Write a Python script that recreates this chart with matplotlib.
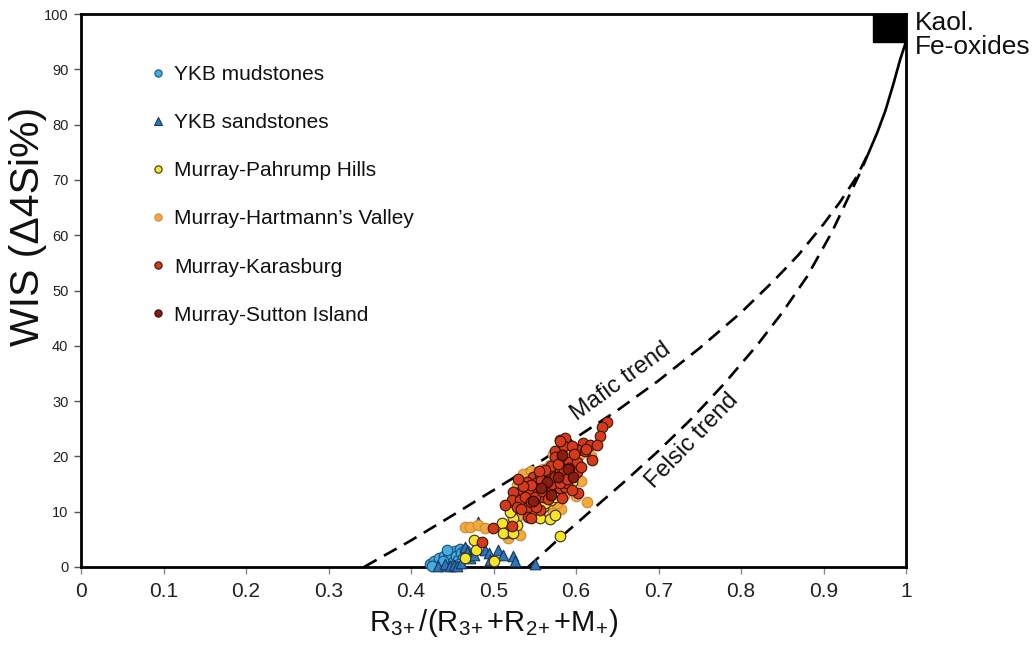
import matplotlib
matplotlib.use("Agg")
import matplotlib.pyplot as plt
from matplotlib.patches import Rectangle
from matplotlib.lines import Line2D

plt.rcParams['font.family'] = ['Liberation Sans', 'DejaVu Sans']
plt.rcParams['mathtext.fontset'] = 'custom'
plt.rcParams['mathtext.rm'] = 'Liberation Sans'
plt.rcParams['mathtext.default'] = 'regular'

# ---------------- data ----------------
mud_x = [0.423, 0.428, 0.431, 0.434, 0.437, 0.440, 0.442, 0.445, 0.446, 0.449, 0.451, 0.453,
         0.455, 0.457, 0.459, 0.461, 0.463, 0.465, 0.436, 0.448, 0.458, 0.426, 0.444, 0.467, 0.439]
mud_y = [0.5, 1.0, 0.3, 1.6, 0.7, 2.0, 1.2, 0.4, 2.4, 1.6, 0.9, 2.9,
         2.0, 1.3, 3.3, 2.5, 1.7, 3.0, 0.2, 0.2, 0.6, 0.2, 3.1, 2.2, 1.0]

sand_x = [0.433, 0.441, 0.447, 0.452, 0.456, 0.460, 0.465, 0.468, 0.472, 0.476, 0.481, 0.490,
          0.494, 0.496, 0.506, 0.512, 0.524, 0.526, 0.550, 0.477]
sand_y = [0.2, 0.5, 0.1, 0.3, 0.2, 0.8, 3.7, 2.8, 1.6, 2.2, 8.2, 3.1,
          2.5, 1.3, 3.1, 2.2, 1.9, 1.0, 0.6, 3.4]

hart_x = [0.466, 0.472, 0.481, 0.490, 0.518, 0.532, 0.613, 0.548, 0.556, 0.528, 0.540, 0.560,
          0.568, 0.572, 0.590, 0.597, 0.606, 0.570, 0.550, 0.535, 0.530, 0.545, 0.565, 0.600,
          0.586, 0.572, 0.582, 0.604, 0.592, 0.577, 0.618, 0.555, 0.536, 0.545]
hart_y = [7.2, 7.2, 7.6, 7.0, 5.2, 5.8, 11.8, 10.0, 9.5, 14.8, 16.3, 17.8,
          18.4, 20.5, 21.5, 17.0, 15.5, 16.0, 13.2, 11.0, 9.2, 12.2, 11.0, 12.8,
          13.0, 9.8, 10.5, 20.2, 19.6, 11.6, 20.0, 15.8, 16.8, 17.4]

pahr_x = [0.466, 0.476, 0.479, 0.500, 0.510, 0.514, 0.522, 0.528, 0.524, 0.526, 0.520, 0.556,
          0.568, 0.560, 0.570, 0.581, 0.593, 0.593, 0.595, 0.575, 0.562, 0.574, 0.585, 0.552,
          0.545, 0.578, 0.600, 0.565, 0.512, 0.524]
pahr_y = [1.6, 4.9, 3.1, 1.0, 7.9, 6.1, 6.1, 7.6, 8.8, 10.6, 10.0, 8.8,
          8.6, 10.9, 12.1, 5.6, 15.2, 18.4, 15.4, 12.7, 11.6, 9.4, 16.5, 12.5,
          14.5, 20.5, 17.5, 14.0, 6.1, 6.1]

kara_x = [0.581, 0.587, 0.575, 0.579, 0.584, 0.573, 0.581, 0.587, 0.548, 0.556, 0.562, 0.540,
          0.552, 0.564, 0.573, 0.581, 0.587, 0.534, 0.544, 0.554, 0.560, 0.568, 0.524, 0.522,
          0.532, 0.538, 0.514, 0.528, 0.540, 0.556, 0.542, 0.546, 0.522, 0.575, 0.585,
          0.637, 0.631, 0.629, 0.609, 0.617, 0.625, 0.603, 0.611, 0.619, 0.591, 0.601, 0.585,
          0.601, 0.562, 0.577, 0.589, 0.568, 0.603, 0.583, 0.499, 0.486, 0.581, 0.595,
          0.546, 0.558, 0.566, 0.571, 0.550, 0.559, 0.536, 0.530, 0.570, 0.578, 0.592, 0.597,
          0.563, 0.555, 0.545, 0.533, 0.595, 0.606, 0.612, 0.574, 0.566, 0.551, 0.580, 0.589]
kara_y = [23.0, 23.3, 20.9, 19.0, 19.0, 17.5, 17.2, 16.6, 16.3, 16.6, 16.1, 15.4,
          15.1, 14.5, 14.2, 14.2, 14.4, 13.9, 13.9, 13.3, 12.7, 13.3, 13.6, 12.1,
          12.1, 12.7, 11.2, 10.9, 10.6, 10.3, 9.1, 8.8, 7.4, 19.9, 21.8,
          26.3, 25.4, 23.6, 22.4, 22.1, 22.1, 21.2, 20.9, 19.3, 19.0, 19.0, 17.5,
          17.2, 16.9, 15.7, 15.1, 14.5, 13.4, 12.4, 7.0, 4.6, 22.7, 21.8,
          14.8, 15.8, 15.5, 15.0, 12.6, 13.8, 14.6, 15.9, 18.2, 18.6, 17.9, 20.4,
          17.6, 17.3, 11.8, 10.4, 14.0, 18.0, 21.4, 16.2, 12.3, 10.9, 15.1, 16.0]

sutt_x = [0.565, 0.578, 0.570, 0.590, 0.557, 0.548, 0.583, 0.596]
sutt_y = [15.4, 16.3, 13.0, 17.8, 14.2, 12.0, 20.2, 16.2]

mafic_x = [0.343, 0.40, 0.45, 0.50, 0.56, 0.60, 0.65, 0.70, 0.75, 0.80, 0.84, 0.87, 0.90,
           0.92, 0.94, 0.955]
mafic_y = [0.0, 4.8, 9.3, 13.9, 19.4, 23.4, 28.3, 33.7, 39.6, 46.0, 51.8, 56.5, 62.0,
           66.0, 70.5, 75.0]
felsic_x = [0.542, 0.58, 0.62, 0.66, 0.70, 0.74, 0.78, 0.82, 0.85, 0.88, 0.91, 0.93, 0.945, 0.955]
felsic_y = [0.0, 5.2, 10.4, 15.6, 21.0, 26.8, 33.2, 40.2, 46.0, 52.5, 60.5, 66.8, 71.5, 75.0]
solid_x = [0.955, 0.965, 0.975, 0.985, 0.993, 1.0]
solid_y = [75.0, 78.5, 82.5, 87.5, 91.8, 95.0]

x_ticks = [0, 0.1, 0.2, 0.3, 0.4, 0.5, 0.6, 0.7, 0.8, 0.9, 1.0]
x_ticklabels = ['0', '0.1', '0.2', '0.3', '0.4', '0.5', '0.6', '0.7', '0.8', '0.9', '1']
y_ticks = [0, 10, 20, 30, 40, 50, 60, 70, 80, 90, 100]

labels = ['YKB mudstones', 'YKB sandstones', 'Murray-Pahrump Hills',
          'Murray-Hartmann\u2019s Valley', 'Murray-Karasburg', 'Murray-Sutton Island']

# ---------------- figure ----------------
fig = plt.figure(figsize=(10.34, 6.52), dpi=100)
ax = fig.add_axes([81/1034, 1-567/652, 825/1034, 553/652])
ax.set_xlim(0, 1)
ax.set_ylim(0, 100)

dash = (5.5, 3.2)
ax.plot(mafic_x, mafic_y, color='black', lw=1.9, dashes=dash, zorder=2)
ax.plot(felsic_x, felsic_y, color='black', lw=1.9, dashes=dash, zorder=2)
ax.plot(solid_x, solid_y, color='black', lw=1.9, zorder=2, solid_capstyle='round')

s = 58
ax.scatter(mud_x, mud_y, s=s, marker='o', facecolor='#45ace0', edgecolor='#1b4f7a', lw=0.8, zorder=3, clip_on=False)
ax.scatter(sand_x, sand_y, s=s, marker='^', facecolor='#2f74b8', edgecolor='#16375e', lw=0.8, zorder=3, clip_on=False)
ax.scatter(hart_x, hart_y, s=s, marker='o', facecolor='#f3a93c', edgecolor='#c98a3a', lw=0.8, zorder=3)
ax.scatter(pahr_x, pahr_y, s=s, marker='o', facecolor='#f7e428', edgecolor='#3a3010', lw=0.8, zorder=3)
ax.scatter(kara_x, kara_y, s=s, marker='o', facecolor='#d63a1c', edgecolor='#3a1208', lw=0.8, zorder=4)
ax.scatter(sutt_x, sutt_y, s=s, marker='o', facecolor='#8a1c10', edgecolor='#2a0804', lw=0.8, zorder=4)

ax.add_patch(Rectangle((0.96, 95), 0.04, 5, facecolor='black', edgecolor='black', zorder=5, clip_on=False))
ax.text(1.011, 100.5, 'Kaol.\nFe-oxides', ha='left', va='top', fontsize=19, linespacing=0.98,
        clip_on=False, color='#111111')

ax.text(0.655, 33.5, 'Mafic trend', rotation=36, ha='center', va='center', fontsize=17, color='#111111')
ax.text(0.741, 22.8, 'Felsic trend', rotation=46, ha='center', va='center', fontsize=17, color='#111111')

# legend
styles = [('o', '#45ace0', '#1b4f7a'), ('^', '#2f74b8', '#16375e'), ('o', '#f7e428', '#3a3010'),
          ('o', '#f3a93c', '#c98a3a'), ('o', '#d63a1c', '#3a1208'), ('o', '#8a1c10', '#2a0804')]
handles = [Line2D([], [], ls='none', marker=m, markersize=5.2, markerfacecolor=fc, markeredgecolor=ec,
                  markeredgewidth=0.8) for m, fc, ec in styles]
leg = ax.legend(handles, labels, loc='upper left', bbox_to_anchor=(0.081, 0.908), frameon=False,
                fontsize=15, labelspacing=1.4, handletextpad=0.25, handlelength=1.0,
                borderpad=0, borderaxespad=0)
for t in leg.get_texts():
    t.set_color('#111111')

# axes styling
for sp in ax.spines.values():
    sp.set_linewidth(2.0)
    sp.set_color('black')
ax.set_xticks(x_ticks)
ax.set_xticklabels(x_ticklabels)
ax.set_yticks(y_ticks)
ax.tick_params(axis='x', direction='out', length=5, width=1, color='#888888', labelsize=15,
               labelcolor='#222222', pad=6)
ax.tick_params(axis='y', direction='out', length=5, width=1, color='#555555', labelsize=10.5,
               labelcolor='#222222', pad=4)

ax.set_xlabel(r'R$_{3\!+}$/(R$_{3\!+}$+R$_{2\!+}$+M$_{+}$)', fontsize=21, labelpad=4, color='#111111')
fig.text(28/1034, 1-226/652, 'WIS (\u03944Si%)', rotation=90, ha='center', va='center',
         fontsize=29.5, color='#111111')

fig.savefig('out.png', dpi=100)
